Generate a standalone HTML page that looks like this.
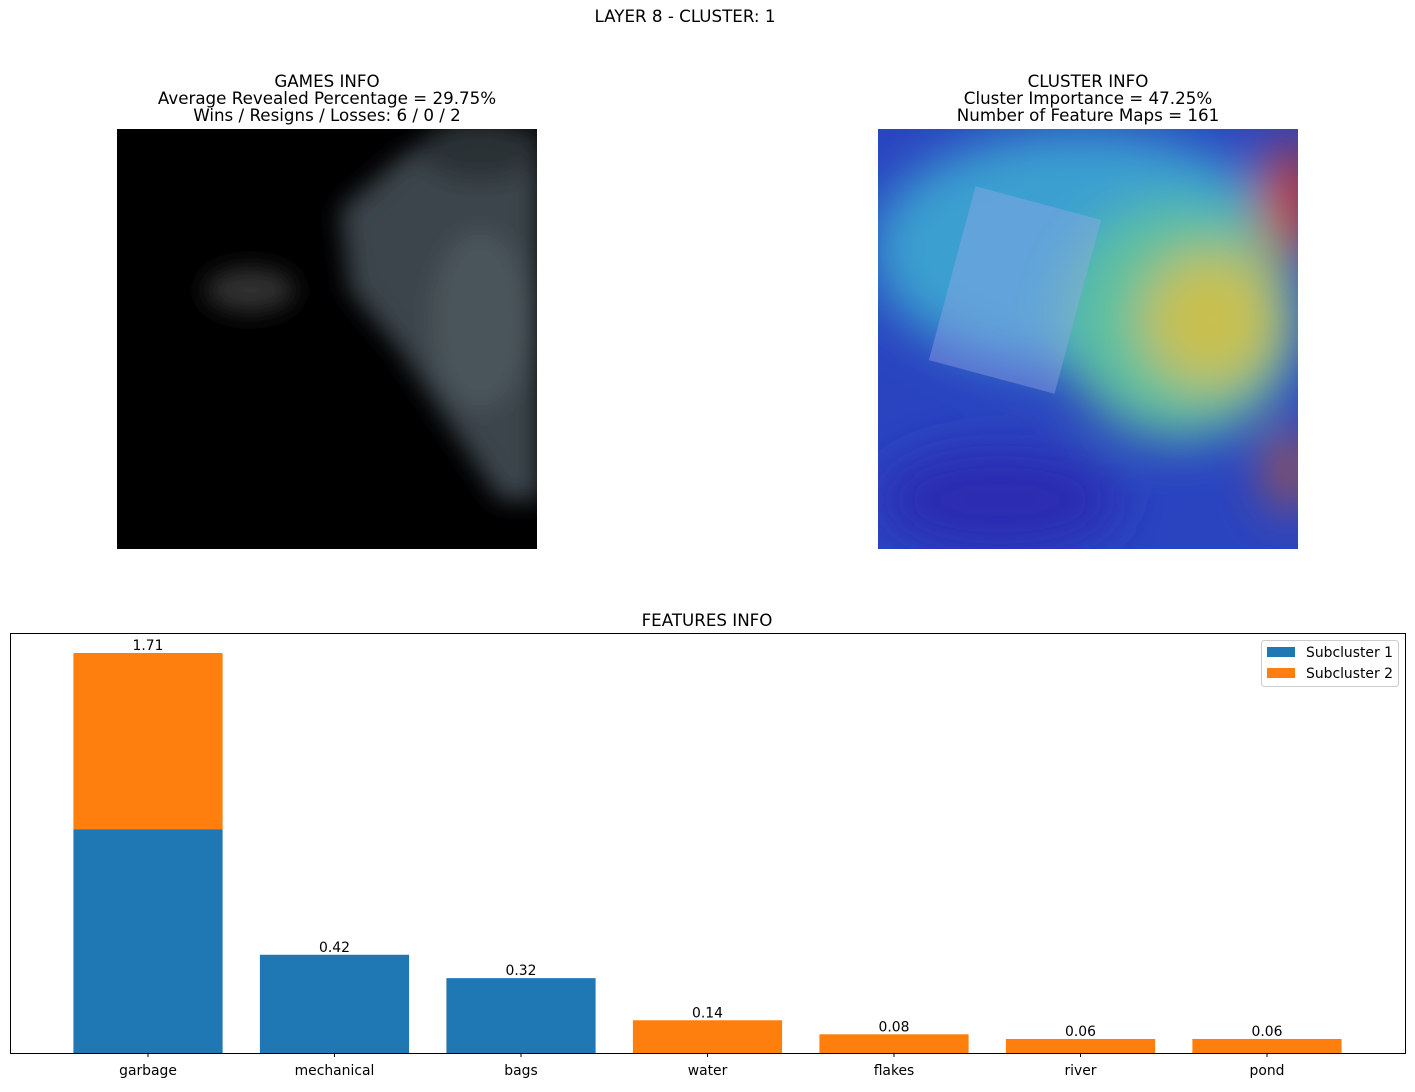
<!DOCTYPE html>
<html><head><meta charset="utf-8"><style>
body{margin:0;background:#fff;font-family:"Liberation Sans","DejaVu Sans",sans-serif;}
svg text{font-family:"DejaVu Sans","Liberation Sans",sans-serif;}
</style></head><body>
<svg width="1415" height="1087" viewBox="0 0 1415 1087" xmlns="http://www.w3.org/2000/svg">
<defs>
<filter id="bl" x="-50%" y="-50%" width="200%" height="200%"><feGaussianBlur stdDeviation="25"/></filter>
<filter id="bl2" x="-50%" y="-50%" width="200%" height="200%"><feGaussianBlur stdDeviation="12"/></filter>
<clipPath id="c1"><rect x="117" y="129" width="420" height="420"/></clipPath>
<clipPath id="c2"><rect x="878" y="129" width="420" height="420"/></clipPath>
</defs>
<text x="685" y="22" text-anchor="middle" font-size="16.7">LAYER 8 - CLUSTER: 1</text>
<g font-size="16.7" text-anchor="middle">
<text x="327" y="87">GAMES INFO</text>
<text x="327" y="104">Average Revealed Percentage = 29.75%</text>
<text x="327" y="121">Wins / Resigns / Losses: 6 / 0 / 2</text>
</g>
<g font-size="16.7" text-anchor="middle">
<text x="1088" y="87">CLUSTER INFO</text>
<text x="1088" y="104">Cluster Importance = 47.25%</text>
<text x="1088" y="121">Number of Feature Maps = 161</text>
</g>
<g clip-path="url(#c1)">
<rect x="117" y="129" width="420" height="420" fill="#000"/>
<g filter="url(#bl2)">
<path d="M340 210 L410 150 L540 130 L540 500 L500 500 L440 410 L400 350 L350 290 Z" fill="#3a444c"/>
<ellipse cx="480" cy="320" rx="50" ry="90" fill="#4a545a"/>
<ellipse cx="480" cy="150" rx="60" ry="30" fill="#2a3036"/>
</g>
<g filter="url(#bl2)"><ellipse cx="250" cy="290" rx="45" ry="22" fill="#333"/></g>
</g>
<g clip-path="url(#c2)">
<rect x="878" y="129" width="420" height="420" fill="#2a44c0"/>
<g filter="url(#bl)">
<ellipse cx="1080" cy="250" rx="210" ry="120" fill="#3aa0d0"/>
<ellipse cx="1180" cy="320" rx="120" ry="120" fill="#5cc0a0"/>
<ellipse cx="1210" cy="320" rx="70" ry="70" fill="#c8c050"/>
<ellipse cx="1290" cy="200" rx="30" ry="60" fill="#c03a2a"/>
<ellipse cx="1290" cy="470" rx="20" ry="40" fill="#c05a30"/>
<ellipse cx="1000" cy="500" rx="120" ry="50" fill="#2a2ab0"/>
</g>
<rect x="950" y="200" width="130" height="180" fill="#9aa8e8" opacity="0.4" transform="rotate(15 1015 290)"/>
</g>
<text x="707" y="626" text-anchor="middle" font-size="16.7">FEATURES INFO</text>
<g id="bars"></g>
<rect x="10.5" y="633.5" width="1395" height="420" fill="none" stroke="#000" stroke-width="1"/>
<g>
<rect x="1261.5" y="640.5" width="137" height="46" rx="3" fill="#fff" stroke="#ccc"/>
<g><rect x="1267" y="647" width="28" height="10" fill="#1f77b4"/><text x="1306" y="657" font-size="13.9">Subcluster 1</text></g>
<g><rect x="1267" y="668" width="28" height="10" fill="#ff7f0e"/><text x="1306" y="678" font-size="13.9">Subcluster 2</text></g>
</g>
</svg>
<script>
const categories=["garbage","mechanical","bags","water","flakes","river","pond"];
const sub1=[0.957,0.42,0.32,0,0,0,0];
const sub2=[0.753,0,0,0.14,0.08,0.06,0.06];
const totals=["1.71","0.42","0.32","0.14","0.08","0.06","0.06"];
const NS="http://www.w3.org/2000/svg";
const g=document.getElementById('bars');
const x0=10,x1=1405,yb=1053,yt=633;
const n=categories.length;
const lo=-0.74,hi=n-1+0.74;
function xc(i){return x0+(i-lo)/(hi-lo)*(x1-x0);}
const maxT=Math.max(...categories.map((c,i)=>sub1[i]+sub2[i]))*1.05;
const y=v=>yb-v/maxT*(yb-yt);
const bw=0.8/(hi-lo)*(x1-x0);
function mk(t){return document.createElementNS(NS,t);}
categories.forEach((c,i)=>{
  const cx=xc(i);
  if(sub1[i]>0){const r=mk('rect');r.setAttribute('x',cx-bw/2);r.setAttribute('width',bw);r.setAttribute('y',y(sub1[i]));r.setAttribute('height',yb-y(sub1[i]));r.setAttribute('fill','#1f77b4');
  
  g.appendChild(r);}
  if(sub2[i]>0){const r=mk('rect');r.setAttribute('x',cx-bw/2);r.setAttribute('width',bw);r.setAttribute('y',y(sub1[i]+sub2[i]));r.setAttribute('height',y(sub1[i])-y(sub1[i]+sub2[i]));r.setAttribute('fill','#ff7f0e');
  
  g.appendChild(r);}
  const t=mk('text');t.setAttribute('x',cx);t.setAttribute('y',y(sub1[i]+sub2[i])-3);t.setAttribute('text-anchor','middle');t.setAttribute('font-size','13.9');t.textContent=totals[i];
  
  g.appendChild(t);
  const tk=mk('line');tk.setAttribute('x1',cx);tk.setAttribute('x2',cx);tk.setAttribute('y1',yb);tk.setAttribute('y2',yb+4);tk.setAttribute('stroke','#000');
  
  g.appendChild(tk);
  const l=mk('text');l.setAttribute('x',cx);l.setAttribute('y',yb+22);l.setAttribute('text-anchor','middle');l.setAttribute('font-size','13.9');l.textContent=c;
  
  g.appendChild(l);
});
</script>
</body></html>
